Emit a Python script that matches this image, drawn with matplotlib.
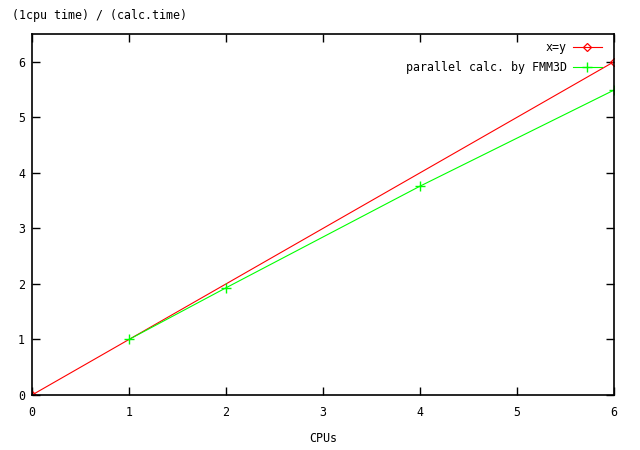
import matplotlib
matplotlib.use("Agg")
import matplotlib.pyplot as plt

ideal_x = [0, 6]
ideal_y = [0, 6]
fmm_x = [1, 2, 4, 6]
fmm_y = [1.0, 1.93, 3.76, 5.49]
xticks = [0, 1, 2, 3, 4, 5, 6]
yticks = [0, 1, 2, 3, 4, 5, 6]

plt.rcParams['font.family'] = ['DejaVu Sans Mono']
plt.rcParams['font.size'] = 8.4

fig = plt.figure(figsize=(6.4, 4.5), dpi=100)
ax = fig.add_axes([32/640, 1-395/450, (614-32)/640, (395-34)/450])

ax.plot(ideal_x, ideal_y, color='#ff0000', lw=0.8, marker='D', ms=4,
        mfc='none', mew=0.9, label='x=y')
ax.plot(fmm_x, fmm_y, color='#00ff00', lw=0.8, marker='+', ms=7,
        mew=1.0, label='parallel calc. by FMM3D')

ax.set_xlim(0, 6)
ax.set_ylim(0, 6.5)
ax.set_xticks(xticks)
ax.set_yticks(yticks)
ax.tick_params(direction='in', length=6, width=1, top=True, right=True, labelsize=8.4)
ax.tick_params(axis='x', pad=8)
ax.tick_params(axis='y', pad=5)
for s in ax.spines.values():
    s.set_linewidth(1.2)

ax.set_xlabel('CPUs', labelpad=9)
fig.text(12/640, 1-16/450, '(1cpu time) / (calc.time)', ha='left', va='center', fontsize=8.4)

leg = ax.legend(loc='upper right', bbox_to_anchor=(1 - 12/582, 1 - 7/361),
                frameon=False, markerfirst=False, borderpad=0, borderaxespad=0,
                handlelength=2.5, handletextpad=0.5,
                labelspacing=0.6, fontsize=8.4)

fig.savefig('out.png', dpi=100)
